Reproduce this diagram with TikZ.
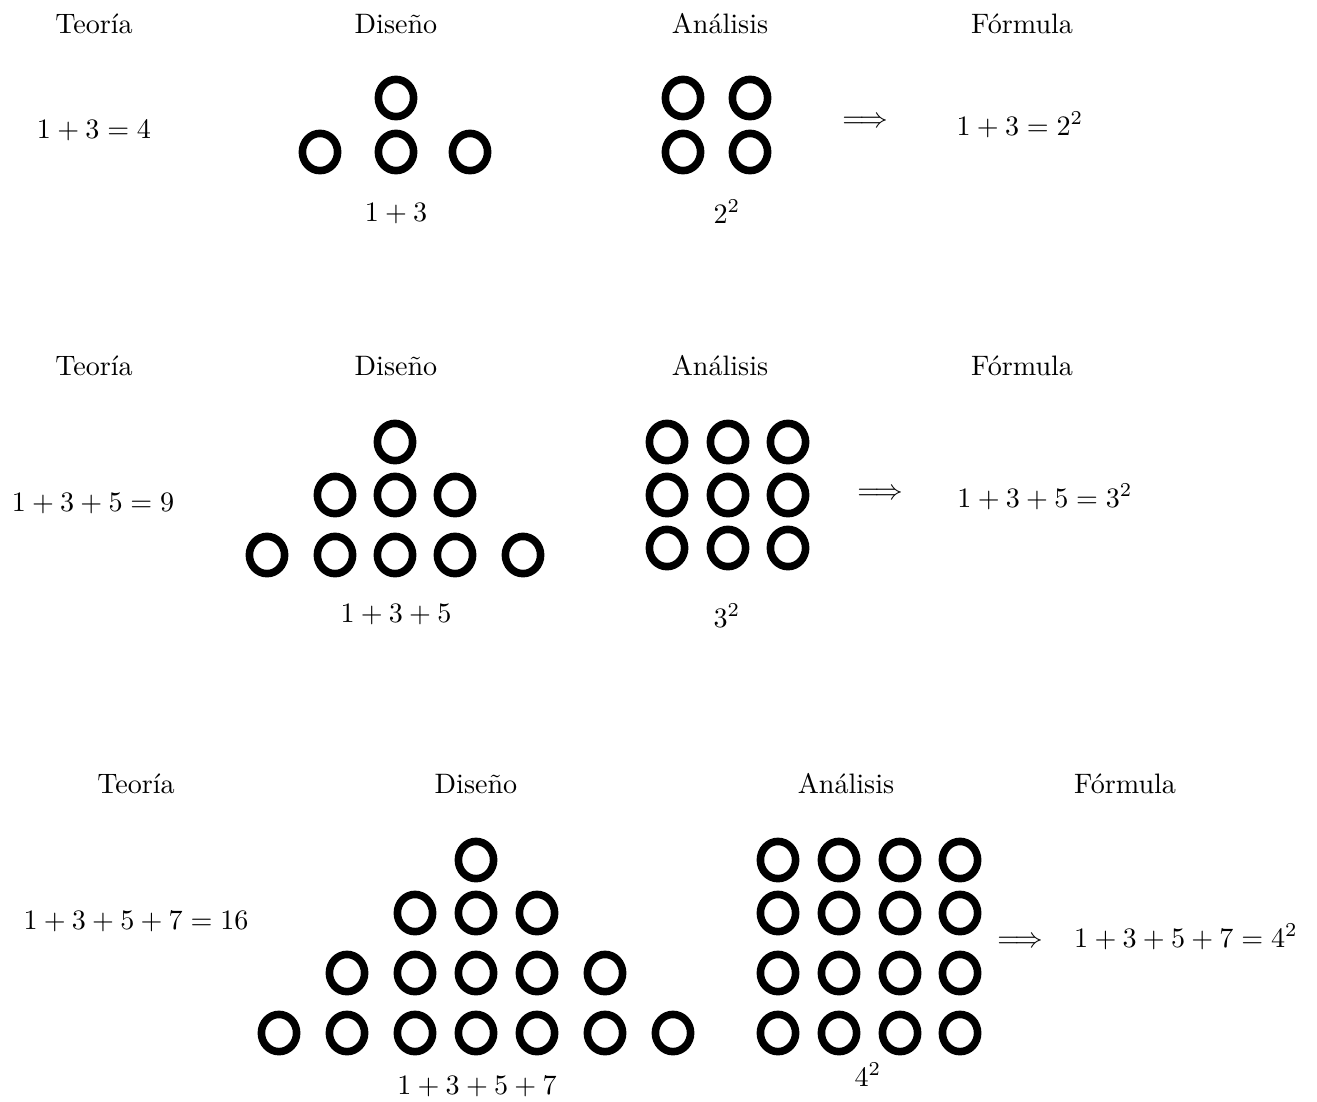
\documentclass[tikz,border=0pt]{standalone}
\usepackage{amsmath}
\usetikzlibrary{positioning,shapes.geometric}
\tikzset{
  ring/.style={ellipse,draw,line width=0.095cm,minimum width=0.44cm,minimum height=0.465cm,inner sep=0pt},
  lbl/.style={anchor=base,inner sep=0pt}
}

\begin{document}
\begin{tikzpicture}[x=0.0125cm,y=-0.0125cm]
\useasboundingbox (0,0) rectangle (1317,1101);
% first block: 1+3
\node[lbl] (t1) at (94,33){Teoría};
\node[lbl] (d1) at (396,33){Diseño};
\node[lbl] (a1) at (720,33){Análisis};
\node[lbl] (f1) at (1022,33){Fórmula};
\node[lbl] (sum1) at (94,138){$1+3=4$};
\node[ring] (p1-0) at (396,98){};
\foreach \x [count=\i] in {320,396,470} \node[ring] (p1-\i) at (\x,152){};
\foreach \x [count=\i] in {683,750} \foreach \y [count=\j] in {98,152} \node[ring] (q1-\i-\j) at (\x,\y){};
\node[lbl] (pl1) at (396,221){$1+3$};
\node[lbl] (ql1) at (727,223){$2^2$};
\node[lbl] (im1) at (865,127){$\Longrightarrow$};
\node[lbl] (res1) at (1020,135){$1+3=2^2$};
% second block: 1+3+5
\node[lbl] (t2) at (94,375){Teoría};
\node[lbl] (d2) at (396,375){Diseño};
\node[lbl] (a2) at (720,375){Análisis};
\node[lbl] (f2) at (1022,375){Fórmula};
\node[lbl] (sum2) at (93,511){$1+3+5=9$};
\node[ring] (p2-0) at (395,442){};
\foreach \x [count=\i] in {335,395,455} \node[ring] (p2a-\i) at (\x,495){};
\foreach \x [count=\i] in {267,335,395,455,523} \node[ring] (p2b-\i) at (\x,555){};
\foreach \x [count=\i] in {667,728,788} \foreach \y [count=\j] in {442,495,548} \node[ring] (q2-\i-\j) at (\x,\y){};
\node[lbl] (pl2) at (396,622){$1+3+5$};
\node[lbl] (ql2) at (727,627){$3^2$};
\node[lbl] (im2) at (880,499){$\Longrightarrow$};
\node[lbl] (res2) at (1045,507){$1+3+5=3^2$};
% third block: 1+3+5+7
\node[lbl] (t3) at (136,793){Teoría};
\node[lbl] (d3) at (476,793){Diseño};
\node[lbl] (a3) at (846,793){Análisis};
\node[lbl] (f3) at (1125,793){Fórmula};
\node[lbl] (sum3) at (136,929){$1+3+5+7=16$};
\node[ring] (p3-0) at (476,860){};
\foreach \x [count=\i] in {415,476,537} \node[ring] (p3a-\i) at (\x,913){};
\foreach \x [count=\i] in {347,415,476,537,605} \node[ring] (p3b-\i) at (\x,973){};
\foreach \x [count=\i] in {279,347,415,476,537,605,673} \node[ring] (p3c-\i) at (\x,1033){};
\foreach \x [count=\i] in {778,839,900,960} \foreach \y [count=\j] in {860,913,973,1033} \node[ring] (q3-\i-\j) at (\x,\y){};
\node[lbl] (pl3) at (477,1094){$1+3+5+7$};
\node[lbl] (ql3) at (868,1086){$4^2$};
\node[lbl] (im3) at (1020,947){$\Longrightarrow$};
\node[lbl] (res3) at (1186,947){$1+3+5+7=4^2$};
\end{tikzpicture}
\end{document}
